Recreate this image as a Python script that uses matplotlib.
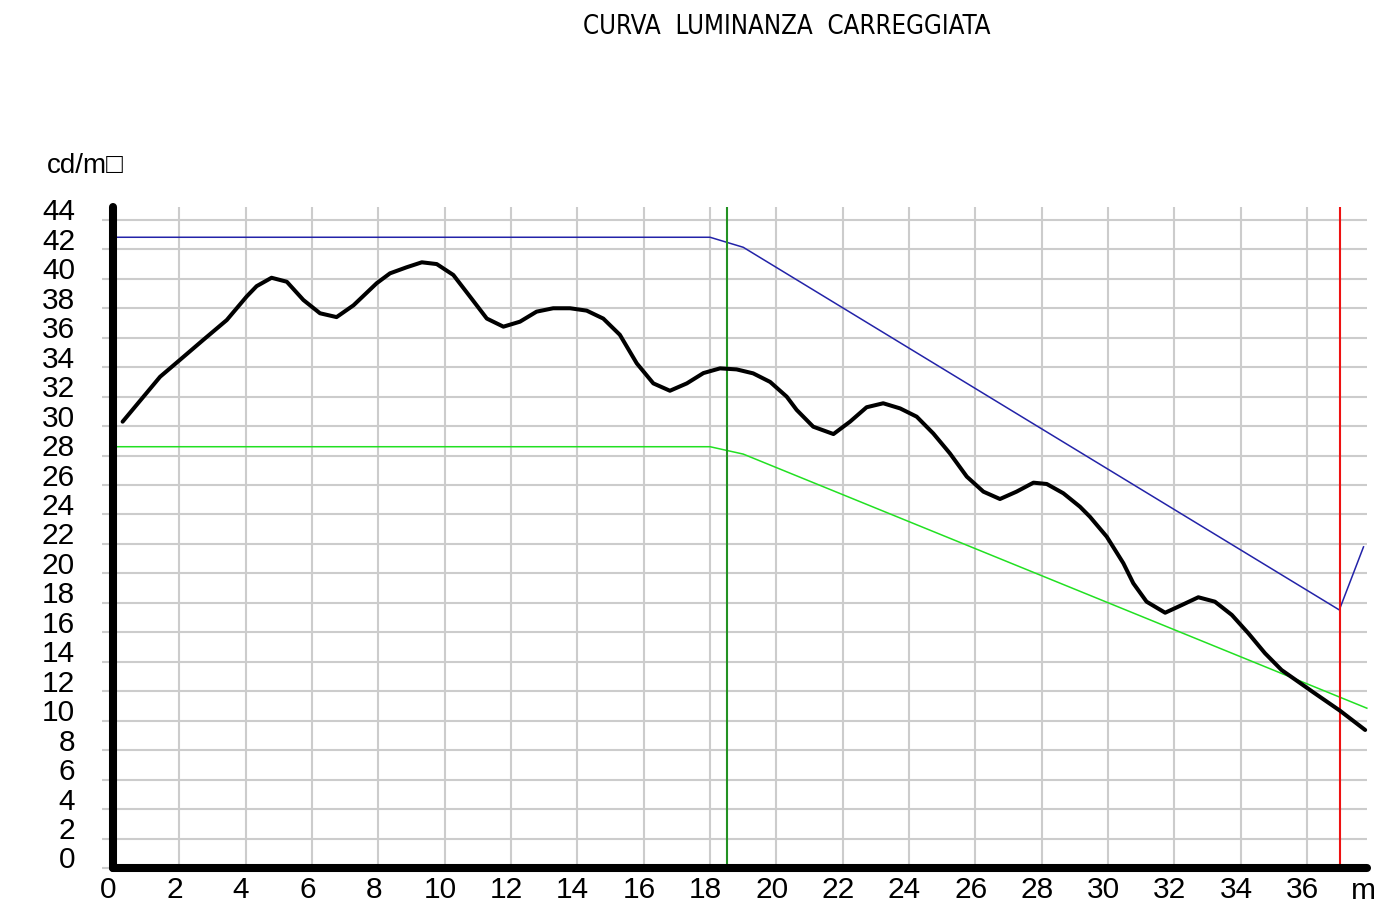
import matplotlib
matplotlib.use("Agg")
import matplotlib.pyplot as plt
import matplotlib.transforms as mtransforms

# ---- data ----
dist = [0.29, 0.92, 1.42, 2.02, 2.72, 3.43, 4.03, 4.33, 4.78, 5.24, 5.74, 6.24, 6.74,
        7.25, 7.95, 8.35, 8.85, 9.31, 9.76, 10.26, 10.76, 11.27, 11.77, 12.27, 12.77,
        13.27, 13.78, 14.28, 14.78, 15.28, 15.79, 16.29, 16.79, 17.3, 17.8, 18.3, 18.8,
        19.3, 19.81, 20.31, 20.61, 21.11, 21.72, 22.22, 22.72, 23.22, 23.73, 24.23,
        24.73, 25.23, 25.74, 26.24, 26.74, 27.24, 27.75, 28.15, 28.65, 29.15, 29.45,
        29.96, 30.46, 30.76, 31.16, 31.72, 32.22, 32.72, 33.22, 33.73, 34.23, 34.73,
        35.23, 35.73, 36.23, 36.99, 37.75]
luminance = [30.3, 32.0, 33.35, 34.5, 35.85, 37.2, 38.8, 39.5, 40.07, 39.8, 38.56, 37.66,
             37.4, 38.2, 39.7, 40.37, 40.78, 41.12, 41.0, 40.26, 38.8, 37.3, 36.75, 37.09,
             37.77, 38.0, 38.0, 37.84, 37.3, 36.2, 34.26, 32.9, 32.4, 32.9, 33.6, 33.92,
             33.85, 33.58, 33.0, 32.0, 31.1, 29.96, 29.46, 30.3, 31.28, 31.55, 31.2, 30.64,
             29.5, 28.15, 26.57, 25.55, 25.05, 25.55, 26.16, 26.07, 25.44, 24.53, 23.85,
             22.49, 20.69, 19.33, 18.08, 17.33, 17.85, 18.38, 18.08, 17.18, 15.93, 14.58,
             13.44, 12.65, 11.86, 10.68, 9.37]

upper_x = [0.0, 18.0, 19.0, 36.97, 37.7]
upper_y = [42.82, 42.82, 42.14, 17.52, 21.8]
lower_x = [0.0, 18.0, 19.0, 37.8]
lower_y = [28.6, 28.6, 28.1, 10.85]

green_marker = 18.5
red_marker = 37.0

xticks = list(range(0, 37, 2))
yticks = list(range(0, 45, 2))

title = "CURVA  LUMINANZA  CARREGGIATA"
ylabel = "cd/m\u25a1"
xunit = "m"

# ---- figure ----
W, H = 1375, 923
dpi = 100
fig = plt.figure(figsize=(W / dpi, H / dpi), dpi=dpi)
fig.patch.set_facecolor("white")

left_px, right_px, bottom_px, top_px = 113, 1367, 868, 207
ax = fig.add_axes([left_px / W, 1 - bottom_px / H,
                   (right_px - left_px) / W, (bottom_px - top_px) / H])

xmax = (right_px - left_px) / 33.17
ymax = (bottom_px - top_px) / 14.73
ax.set_xlim(0, xmax)
ax.set_ylim(0, ymax)

font = ["Liberation Sans", "DejaVu Sans"]
fs = 21.5

ax.set_xticks(xticks)
ax.set_yticks(yticks)
ax.set_xticklabels([str(v) for v in xticks], fontsize=fs, family=font)
ax.set_yticklabels([str(v) for v in yticks], fontsize=fs, family=font)

ax.grid(True, color="#cccccc", linewidth=1.5, zorder=0)
ax.set_axisbelow(True)

ax.tick_params(axis="y", direction="out", length=7.9, width=1.5, color="#cccccc",
               labelcolor="black", pad=19.4)
ax.tick_params(axis="x", direction="out", length=3, width=1.5, color="#cccccc",
               labelcolor="black", pad=3)

for s in ["top", "right"]:
    ax.spines[s].set_visible(False)
for s in ["left", "bottom"]:
    ax.spines[s].set_linewidth(5.8)
    ax.spines[s].set_color("black")
    ax.spines[s].set_capstyle("round")
    ax.spines[s].set_zorder(5)

# offsets of tick labels (as in the reference)
dy = mtransforms.ScaledTranslation(0, 10.5 / dpi, fig.dpi_scale_trans)
for lab in ax.get_yticklabels():
    lab.set_transform(lab.get_transform() + dy)
dx = mtransforms.ScaledTranslation(-4.7 / dpi, 0, fig.dpi_scale_trans)
for lab in ax.get_xticklabels():
    lab.set_transform(lab.get_transform() + dx)

# lines
ax.plot(upper_x, upper_y, color="#2323a8", linewidth=1.1, zorder=3, clip_on=False)
ax.plot(lower_x, lower_y, color="#22e022", linewidth=1.1, zorder=3, clip_on=False)
ax.axvline(green_marker, color="#239223", linewidth=1.5, zorder=3)
ax.axvline(red_marker, color="#ee1111", linewidth=1.5, zorder=3)
ax.plot(dist, luminance, color="black", linewidth=2.9, zorder=4,
        solid_joinstyle="round", solid_capstyle="round", clip_on=False)

# texts
fig.text(786.5 / W, 1 - 27 / H, title, ha="center", va="center", fontsize=18.5,
         family=["DejaVu Sans"], fontstretch="condensed")
fig.text(47 / W, 1 - 166 / H, ylabel, ha="left", va="center", fontsize=20,
         family=["Liberation Sans", "DejaVu Sans"])
fig.text(1363 / W, 1 - 891 / H, xunit, ha="center", va="center", fontsize=fs,
         family=font)

fig.savefig("out.png", dpi=dpi, facecolor="white")
